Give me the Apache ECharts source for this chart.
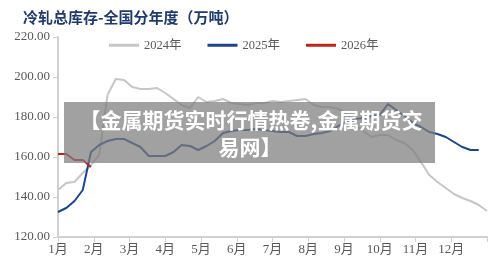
<!DOCTYPE html>
<html>
<head>
<meta charset="utf-8">
<script src="https://cdn.jsdelivr.net/npm/echarts@6/dist/echarts.min.js"></script>
<style>
  html, body { margin: 0; padding: 0; background: #fff; }
  #chart { width: 500px; height: 267px; }
</style>
</head>
<body>
<div id="chart"></div>
<script>
// 月份刻度标签（最后一个刻度不显示）
const monthLabels = ['1月', '2月', '3月', '4月', '5月', '6月', '7月', '8月', '9月', '10月', '11月', '12月', ''];
const seriesNames = ['2024年', '2025年', '2026年'];

// 周度数据（万吨），按周序号排列
const data2024 = [143.5, 147, 147.5, 152, 156, 161, 191, 199, 198.5, 195, 194, 194, 194.5, 192, 189, 186,
  184.5, 190, 187.5, 188, 189, 187, 186.5, 186, 187, 187, 188, 187.5, 188, 188.5, 189, 186, 185, 185,
  184, 182, 176, 173, 170, 171, 171, 168.5, 167, 163.5, 157.5, 151, 147.5, 144.5, 141.5, 139.5, 138, 136, 133];
const data2025 = [132.5, 134.5, 138, 143.5, 162.5, 166, 168, 169, 169, 167, 165, 160.5, 160.5, 160.5, 162.5,
  166, 165.5, 163.5, 165.5, 168, 172, 173, 173.5, 173.5, 174, 173.5, 173, 172.5, 172.5, 170.5, 170.5,
  171.5, 172, 173, 175.5, 178, 179, 179.5, 180.5, 181, 186.5, 183.5, 180.5, 177, 175, 172.5, 171.5, 170,
  167.5, 165, 163.5, 163.5];
const data2026 = [161.5, 161.5, 158.5, 158.5, 155];

const weeksPerYear = 52;
const colors = ['#c6c6c6', '#1c4591', '#c0231b'];

// 周序号 -> 月份位置
const toPoints = arr => arr.map((v, i) => [i * 12 / weeksPerYear, v]);

const chart = echarts.init(document.getElementById('chart'));

const serifFont = '"Liberation Serif", "Noto Sans CJK SC", serif';

chart.setOption({
  animation: false,
  title: {
    text: '冷轧总库存-全国分年度（万吨）',
    left: 18,
    top: 5,
    textStyle: {
      fontFamily: '"Noto Sans CJK SC"',
      fontSize: 15,
      fontWeight: 'bold',
      color: '#1f3a6e'
    }
  },
  legend: {
    data: seriesNames,
    left: 104,
    top: 34,
    itemWidth: 30,
    itemHeight: 3,
    itemGap: 26,
    icon: 'rect',
    textStyle: { fontFamily: serifFont, fontSize: 12.5, color: '#595959' }
  },
  grid: {
    left: 58,
    right: 13,
    top: 37,
    bottom: 30,
    containLabel: false
  },
  xAxis: {
    type: 'value',
    min: 0,
    max: 12,
    interval: 1,
    axisLine: { lineStyle: { color: '#d0d0d0', width: 2 } },
    axisTick: { show: true, length: 5, lineStyle: { color: '#d0d0d0', width: 1 } },
    axisLabel: {
      color: '#595959',
      fontFamily: serifFont,
      fontSize: 13,
      margin: 6,
      formatter: v => monthLabels[Math.round(v)]
    },
    splitLine: { show: false }
  },
  yAxis: {
    type: 'value',
    min: 120,
    max: 220,
    interval: 20,
    axisLine: { show: true, lineStyle: { color: '#d0d0d0', width: 2 } },
    axisTick: { show: true, length: 5, lineStyle: { color: '#d0d0d0', width: 1 } },
    axisLabel: {
      color: '#595959',
      fontFamily: serifFont,
      fontSize: 13,
      margin: 8,
      formatter: v => v.toFixed(2)
    },
    splitLine: { show: false }
  },
  series: [
    {
      name: seriesNames[0],
      type: 'line',
      data: toPoints(data2024),
      showSymbol: false,
      lineStyle: { color: colors[0], width: 2 },
      itemStyle: { color: colors[0] },
      z: 2
    },
    {
      name: seriesNames[1],
      type: 'line',
      data: toPoints(data2025),
      showSymbol: false,
      lineStyle: { color: colors[1], width: 2 },
      itemStyle: { color: colors[1] },
      z: 3
    },
    {
      name: seriesNames[2],
      type: 'line',
      data: toPoints(data2026),
      showSymbol: false,
      lineStyle: { color: colors[2], width: 2 },
      itemStyle: { color: colors[2] },
      z: 4
    }
  ],
  // 水印横幅
  graphic: [
    {
      type: 'rect',
      z: 100,
      shape: { x: 64, y: 102, width: 371, height: 61 },
      style: { fill: 'rgba(125,125,125,0.72)' }
    },
    {
      type: 'text',
      z: 101,
      x: 251,
      y: 120,
      style: {
        text: '【金属期货实时行情热卷,金属期货交',
        fill: '#fff',
        font: 'bold 21px "Noto Sans CJK SC"',
        align: 'center',
        verticalAlign: 'middle'
      }
    },
    {
      type: 'text',
      z: 101,
      x: 250,
      y: 147,
      style: {
        text: '易网】',
        fill: '#fff',
        font: 'bold 21px "Noto Sans CJK SC"',
        align: 'center',
        verticalAlign: 'middle'
      }
    }
  ]
});
</script>
</body>
</html>
